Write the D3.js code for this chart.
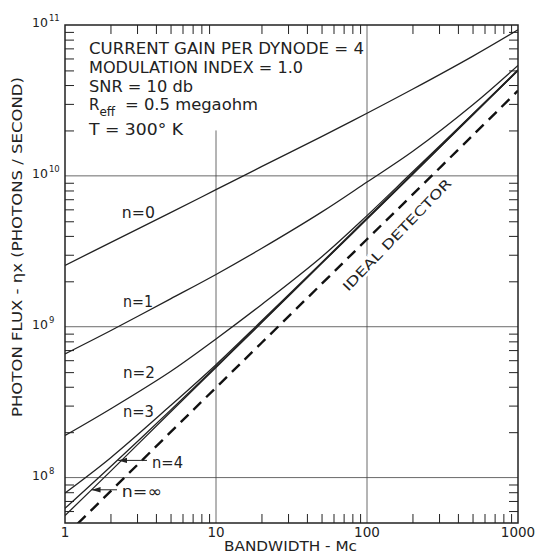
<!DOCTYPE html>
<html>
<head>
<meta charset="utf-8">
<script src="https://cdn.jsdelivr.net/npm/d3@7"></script>
<style>
body{margin:0;background:#fff;}
svg{display:block;font-family:"DejaVu Sans",sans-serif;}
</style>
</head>
<body>
<svg></svg>
<script>
// values (bandwidth in Mc, flux in photons/second)
var bandwidth = [1, 2, 5, 10, 20, 50, 100, 200, 500, 1000];
var fluxN0    = [2.55e9, 3.61e9, 5.7e9, 8.1e9, 1.15e10, 1.82e10, 2.6e10, 3.75e10, 6.2e10, 9.3e10];
var fluxN1    = [6.6e8, 9.4e8, 1.53e9, 2.22e9, 3.3e9, 5.75e9, 9.1e9, 1.45e10, 2.95e10, 5.4e10];
var fluxN2    = [1.9e8, 2.85e8, 5.05e8, 8.3e8, 1.4e9, 2.9e9, 5.45e9, 1.06e10, 2.56e10, 5.05e10];
var fluxN3    = [7.9e7, 1.35e8, 3.0e8, 5.6e8, 1.09e9, 2.66e9, 5.25e9, 1.035e10, 2.55e10, 5.0e10];
var fluxN4    = [6.25e7, 1.18e8, 2.8e8, 5.45e8, 1.07e9, 2.63e9, 5.2e9, 1.025e10, 2.53e10, 5.0e10];
var fluxNinf  = [5.6e7, 1.1e8, 2.72e8, 5.37e8, 1.06e9, 2.62e9, 5.17e9, 1.02e10, 2.52e10, 4.99e10];
var fluxIdeal = [4.1e7, 8.1e7, 2.0e8, 3.95e8, 7.8e8, 1.92e9, 3.8e9, 7.5e9, 1.85e10, 3.67e10];

var xTicks = [1, 10, 100, 1000];
var xTickLabels = ["1", "10", "100", "1000"];
var yTicks = [1e8, 1e9, 1e10, 1e11];
var yTickExp = ["8", "9", "10", "11"];

// curve labels, anchored in data units
var curveLabels = ["n=0", "n=1", "n=2", "n=3", "n=4", "n=\u221e"];
var labelBandwidth = [2.38, 2.42, 2.42, 2.42, 3.77, 2.38];
var labelFlux = [5.26e9, 1.35e9, 4.58e8, 2.52e8, 1.16e8, 7.45e7];

var infoLines = ["CURRENT GAIN PER DYNODE = 4", "MODULATION INDEX = 1.0", "SNR = 10 db", "", "T = 300\u00b0 K"];

var makeChart = function()
{
  var width = 536;
  var height = 557;
  var left = 65, right = 518, top = 25, bottom = 523;
  var ink = "#222";

  var svg = d3.select("svg")
    .attr("width", width)
    .attr("height", height);

  var x = d3.scaleLog().domain([1, 1000]).range([left, right]);
  var y = d3.scaleLog().domain([5e7, 1e11]).range([bottom, top]);

  svg.append("defs").append("clipPath").attr("id", "plot")
    .append("rect")
    .attr("x", left).attr("y", top)
    .attr("width", right - left).attr("height", bottom - top);

  svg.select("defs").append("marker")
    .attr("id", "arr")
    .attr("viewBox", "0 0 10 6")
    .attr("refX", 10).attr("refY", 3)
    .attr("markerWidth", 9).attr("markerHeight", 6)
    .attr("markerUnits", "userSpaceOnUse")
    .attr("orient", "auto")
    .append("path").attr("d", "M0,0L10,3L0,6Z").attr("fill", ink);

// grid
  var grid = svg.append("g").attr("stroke", "#444").attr("stroke-width", 0.8);
  grid.selectAll("line.h")
    .data([1e8, 1e9, 1e10])
    .enter()
    .append("line")
    .attr("x1", left).attr("x2", right)
    .attr("y1", function(d){return y(d);})
    .attr("y2", function(d){return y(d);});
  grid.append("line")
    .attr("x1", x(10)).attr("x2", x(10))
    .attr("y1", y(2e10)).attr("y2", bottom);
  grid.append("line")
    .attr("x1", x(100)).attr("x2", x(100))
    .attr("y1", top).attr("y2", bottom);

// curves
  var series = [fluxN0, fluxN1, fluxN2, fluxN3, fluxN4, fluxNinf];
  var line = d3.line()
    .x(function(d){return x(d[0]);})
    .y(function(d){return y(d[1]);})
    .curve(d3.curveCatmullRom.alpha(0.5));

  var plot = svg.append("g").attr("clip-path", "url(#plot)");
  plot.selectAll("path.curve")
    .data(series)
    .enter()
    .append("path")
    .attr("class", "curve")
    .attr("d", function(s){return line(d3.zip(bandwidth, s));})
    .attr("fill", "none")
    .attr("stroke", ink)
    .attr("stroke-width", 1.3);

  plot.append("path")
    .attr("d", line(d3.zip(bandwidth, fluxIdeal)))
    .attr("fill", "none")
    .attr("stroke", "#111")
    .attr("stroke-width", 2.4)
    .attr("stroke-dasharray", "11,7");

// frame and inward ticks
  var minorX = [];
  [1, 10, 100].forEach(function(d){ for (var k = 2; k < 10; k++) minorX.push(d*k); });
  var minorY = [6e7, 7e7, 8e7, 9e7];
  [1e8, 1e9, 1e10].forEach(function(d){ for (var k = 2; k < 10; k++) minorY.push(d*k); });

  var axes = [
    [d3.axisBottom(x).tickValues(minorX), "translate(0," + bottom + ")"],
    [d3.axisTop(x).tickValues(minorX), "translate(0," + top + ")"],
    [d3.axisLeft(y).tickValues(minorY), "translate(" + left + ",0)"],
    [d3.axisRight(y).tickValues(minorY), "translate(" + right + ",0)"]
  ];
  axes.forEach(function(a){
    var g = svg.append("g")
      .attr("transform", a[1])
      .call(a[0].tickSize(-9).tickFormat(""));
    g.select(".domain").remove();
    g.selectAll("line").attr("stroke", ink).attr("stroke-width", 1);
  });

  svg.append("rect")
    .attr("x", left).attr("y", top)
    .attr("width", right - left).attr("height", bottom - top)
    .attr("fill", "none")
    .attr("stroke", ink)
    .attr("stroke-width", 1.5);

// tick labels
  svg.selectAll("text.xt")
    .data(xTicks)
    .enter()
    .append("text")
    .attr("class", "xt")
    .text(function(d, i){return xTickLabels[i];})
    .attr("x", function(d){return x(d);})
    .attr("y", bottom + 14)
    .attr("text-anchor", "middle")
    .attr("font-size", 13.5)
    .attr("fill", ink);

  var yt = svg.selectAll("text.yt")
    .data(yTicks)
    .enter()
    .append("text")
    .attr("class", "yt")
    .attr("x", 32)
    .attr("y", function(d){return y(d) + 2;})
    .attr("font-size", 12.5)
    .attr("fill", ink);
  yt.append("tspan").text("10");
  yt.append("tspan")
    .attr("font-size", 8.5)
    .attr("dx", 1)
    .attr("dy", -6)
    .text(function(d, i){return yTickExp[i];});

// axis titles
  svg.append("text")
    .text("BANDWIDTH - Mc")
    .attr("x", 224).attr("y", 551)
    .attr("textLength", 133)
    .attr("lengthAdjust", "spacingAndGlyphs")
    .attr("font-size", 14.5)
    .attr("fill", ink);

  svg.append("text")
    .text("PHOTON FLUX - \u03b7x (PHOTONS / SECOND)")
    .attr("transform", "translate(22,247) rotate(-90)")
    .attr("text-anchor", "middle")
    .attr("textLength", 340)
    .attr("lengthAdjust", "spacingAndGlyphs")
    .attr("font-size", 14)
    .attr("fill", ink);

// parameter box
  var infoLen = [275, 214, 104, 0, 94];
  var infoBase = [54, 73, 92, 110, 135];
  infoLines.forEach(function(t, i){
    if (!t) return;
    svg.append("text")
      .text(t)
      .attr("x", 89).attr("y", infoBase[i])
      .attr("textLength", infoLen[i])
      .attr("lengthAdjust", "spacingAndGlyphs")
      .attr("font-size", 15)
      .attr("fill", ink);
  });
  var reff = svg.append("text")
    .attr("x", 89).attr("y", infoBase[3])
    .attr("font-size", 15)
    .attr("fill", ink);
  reff.append("tspan").text("R");
  reff.append("tspan").attr("font-size", 12).attr("dy", 6).text("eff");
  svg.append("text")
    .text("= 0.5 megaohm")
    .attr("x", 125).attr("y", infoBase[3])
    .attr("textLength", 133)
    .attr("lengthAdjust", "spacingAndGlyphs")
    .attr("font-size", 15)
    .attr("fill", ink);

// curve labels
  var labLen = [33, 30, 32, 31, 31, 40];
  svg.selectAll("text.cl")
    .data(curveLabels)
    .enter()
    .append("text")
    .attr("class", "cl")
    .text(function(d){return d;})
    .attr("x", function(d, i){return x(labelBandwidth[i]);})
    .attr("y", function(d, i){return y(labelFlux[i]);})
    .attr("textLength", function(d, i){return labLen[i];})
    .attr("lengthAdjust", "spacingAndGlyphs")
    .attr("font-size", 16)
    .attr("fill", ink);

  // arrows from n=4 and n=inf labels to their curves
  var arrows = [[[3.49, 1.3e8], [2.25, 1.3e8]], [[2.21, 8.3e7], [1.5, 8.3e7]]];
  svg.selectAll("line.ar")
    .data(arrows)
    .enter()
    .append("line")
    .attr("x1", function(d){return x(d[0][0]);})
    .attr("y1", function(d){return y(d[0][1]);})
    .attr("x2", function(d){return x(d[1][0]);})
    .attr("y2", function(d){return y(d[1][1]);})
    .attr("stroke", ink)
    .attr("stroke-width", 1)
    .attr("marker-end", "url(#arr)");

  // ideal detector label along the dashed line
  svg.append("text")
    .text("IDEAL DETECTOR")
    .attr("transform", "translate(" + x(158) + "," + y(4.06e9) + ") rotate(-46)")
    .attr("text-anchor", "middle")
    .attr("dy", "0.35em")
    .attr("textLength", 150)
    .attr("lengthAdjust", "spacingAndGlyphs")
    .attr("font-size", 13)
    .attr("fill", ink)
    .attr("stroke", "#fff")
    .attr("stroke-width", 5)
    .attr("paint-order", "stroke");
}

makeChart();
</script>
</body>
</html>
